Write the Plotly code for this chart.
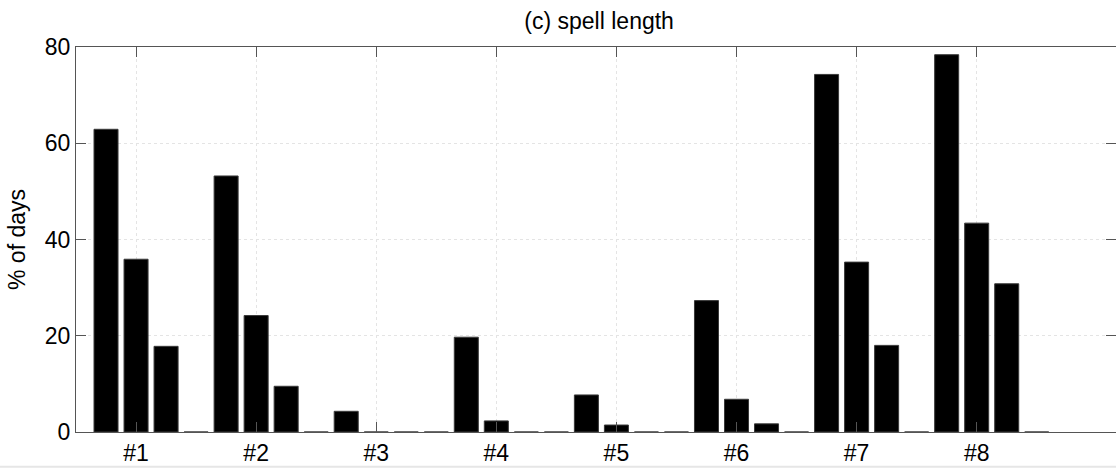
import plotly.graph_objects as go

groups = [1, 2, 3, 4, 5, 6, 7, 8]
tick_labels = ["#1", "#2", "#3", "#4", "#5", "#6", "#7", "#8"]
series_a = [62.9, 53.2, 4.3, 19.7, 7.7, 27.3, 74.3, 78.4]
series_b = [35.9, 24.2, 0.0, 2.3, 1.45, 6.8, 35.3, 43.4]
series_c = [17.8, 9.5, 0.0, 0.0, 0.0, 1.7, 18.0, 30.8]
series_d = [0, 0, 0, 0, 0, 0, 0, 0]
y_ticks = [0, 20, 40, 60, 80]

all_series = [series_a, series_b, series_c, series_d]
step = 0.25
bar_w = 0.2
FONT = "Liberation Sans, Arial, sans-serif"

fig = go.Figure()
for k, s in enumerate(all_series):
    fig.add_trace(go.Bar(
        x=groups, y=s, width=bar_w,
        offset=-step - bar_w / 2 + k * step,
        marker=dict(color="black", line=dict(color="#3a3a3a", width=1)),
        showlegend=False,
    ))

axis_common = dict(
    showline=True, linecolor="#555555", linewidth=1, mirror="ticks",
    ticks="inside", ticklen=10, tickcolor="#555555", tickwidth=1,
    showgrid=True, gridcolor="#e4e4e4", griddash="dot", gridwidth=1,
    zeroline=False,
    tickfont=dict(family=FONT, size=23, color="black"),
)

fig.update_layout(
    width=1116, height=470,
    margin=dict(l=76, r=0, t=47, b=38),
    plot_bgcolor="white", paper_bgcolor="white",
    barmode="overlay",
    title=dict(text="(c) spell length", x=0.503, xref="paper", y=0.956, yref="container",
               xanchor="center", yanchor="middle",
               font=dict(family=FONT, size=23, color="black")),
    xaxis=dict(range=[0.5, 9.16], tickmode="array", tickvals=groups, ticktext=tick_labels,
               **axis_common),
    yaxis=dict(range=[0, 80], tickmode="array", tickvals=y_ticks,
               title=dict(text="% of days", standoff=12,
                          font=dict(family=FONT, size=23, color="black")),
               **axis_common),
    shapes=[dict(type="line", xref="paper", yref="paper", x0=-0.1, x1=1.0,
                 y0=-0.09, y1=-0.09, line=dict(color="#e6e6e6", width=2))],
)

fig.write_html("out.html")
